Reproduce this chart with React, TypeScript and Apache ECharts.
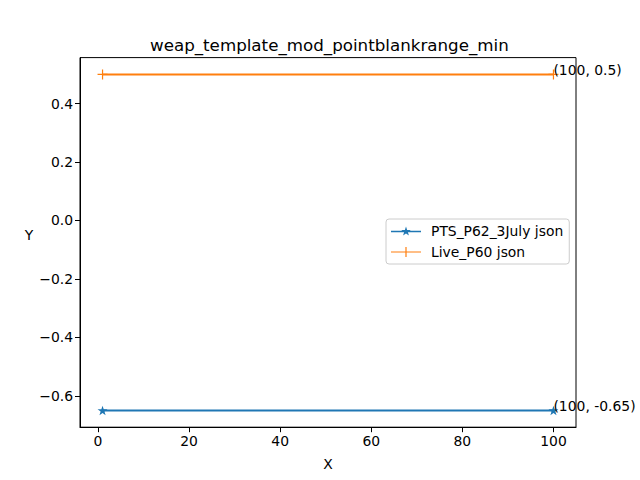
import React, { useEffect, useRef } from 'react'
import * as echarts from 'echarts'

// data
const xValues = [1, 100]
const ptsValues = [-0.65, -0.65]
const liveValues = [0.5, 0.5]
const xTicks = [0, 20, 40, 60, 80, 100]
const yTicks = [-0.6, -0.4, -0.2, 0.0, 0.2, 0.4]
const seriesNames = ['PTS_P62_3July json', 'Live_P60 json']

const FONT = 'DejaVu Sans'
const BLUE = '#1f77b4'
const ORANGE = '#ff7f0e'

// marker shapes (matplotlib '*' and '+')
const STAR =
  'path://M10,0 L12.245,6.91 L19.51,6.91 L13.633,11.18 L15.88,18.09 L10,13.82 L4.12,18.09 L6.367,11.18 L0.49,6.91 L7.755,6.91 Z'
const PLUS =
  'path://M4.4,0 H5.6 V4.4 H10 V5.6 H5.6 V10 H4.4 V5.6 H0 V4.4 H4.4 Z'
// legend icons: line + marker
const STAR_ICON =
  'path://M0,4.25 H30 V5.75 H0 Z M15,0 L16.12,3.455 L19.755,3.455 L16.82,5.59 L17.94,9.045 L15,6.91 L12.06,9.045 L13.18,5.59 L10.245,3.455 L13.88,3.455 Z'
const PLUS_ICON = 'path://M0,4.4 H30 V5.6 H0 Z M14.4,0 H15.6 V10 H14.4 Z'

const fmt = (v: number) => v.toFixed(1).replace('-', '\u2212')

function App() {
  const ref = useRef<HTMLDivElement>(null)

  useEffect(() => {
    const chart = echarts.init(ref.current as HTMLDivElement, undefined, { renderer: 'svg' })

    const mkData = (ys: number[]) =>
      xValues.map((x, i) => {
        const y = ys[i]
        if (i === xValues.length - 1) {
          return {
            value: [x, y],
            label: {
              show: true,
              position: ['50%', '50%'],
              align: 'left',
              verticalAlign: 'bottom',
              offset: [0, 3],
              formatter: `(${x}, ${y})`,
              color: '#000',
              fontFamily: FONT,
              fontSize: 13.9,
            },
          }
        }
        return { value: [x, y] }
      })

    const option: any = {
      animation: false,
      backgroundColor: '#fff',
      textStyle: { fontFamily: FONT },
      title: {
        text: 'weap_template_mod_pointblankrange_min',
        left: 145,
        top: 31,
        textStyle: { fontFamily: FONT, fontSize: 16.7, fontWeight: 'normal', color: '#000' },
      },
      grid: {
        left: 80,
        right: 64,
        top: 57.6,
        bottom: 52.8,
        show: true,
        borderColor: '#000',
        borderWidth: 1,
      },
      legend: {
        orient: 'vertical',
        left: 386,
        top: 219,
        data: [
          { name: seriesNames[0], icon: STAR_ICON },
          { name: seriesNames[1], icon: PLUS_ICON },
        ],
        itemWidth: 30,
        itemHeight: 10,
        itemGap: 7,
        padding: [5, 6, 5, 5],
        borderColor: '#ccc',
        borderWidth: 1,
        borderRadius: 3,
        backgroundColor: 'rgba(255,255,255,0.8)',
        textStyle: { fontFamily: FONT, fontSize: 13.9, color: '#000', padding: [0, 0, 0, 5] },
      },
      xAxis: {
        type: 'value',
        min: -3.95,
        max: 104.95,
        name: 'X',
        nameLocation: 'middle',
        nameGap: 30,
        nameTextStyle: { fontFamily: FONT, fontSize: 13.9, color: '#000' },
        splitLine: { show: false },
        axisLine: { show: true, onZero: false, lineStyle: { color: '#000', width: 1 } },
        axisTick: { show: true, inside: false, length: 5, customValues: xTicks, lineStyle: { color: '#000' } },
        axisLabel: {
          customValues: xTicks,
          formatter: (v: number) => String(v),
          color: '#000',
          fontFamily: FONT,
          fontSize: 13.9,
          margin: 7,
        },
      },
      yAxis: {
        type: 'value',
        min: -0.7075,
        max: 0.5575,
        name: 'Y',
        nameLocation: 'middle',
        nameRotate: 0,
        nameGap: 45,
        nameTextStyle: { fontFamily: FONT, fontSize: 13.9, color: '#000', verticalAlign: 'bottom' },
        splitLine: { show: false },
        axisLine: { show: true, onZero: false, lineStyle: { color: '#000', width: 1 } },
        axisTick: { show: true, inside: false, length: 5, customValues: yTicks, lineStyle: { color: '#000' } },
        axisLabel: {
          customValues: yTicks,
          formatter: (v: number) => fmt(v),
          color: '#000',
          fontFamily: FONT,
          fontSize: 13.9,
          margin: 7,
        },
      },
      series: [
        {
          name: seriesNames[0],
          type: 'line',
          data: mkData(ptsValues),
          symbol: STAR,
          symbolSize: 10,
          symbolKeepAspect: true,
          showAllSymbol: true,
          lineStyle: { color: BLUE, width: 2 },
          itemStyle: { color: BLUE },
          color: BLUE,
        },
        {
          name: seriesNames[1],
          type: 'line',
          data: mkData(liveValues),
          symbol: PLUS,
          symbolSize: 10,
          showAllSymbol: true,
          lineStyle: { color: ORANGE, width: 2 },
          itemStyle: { color: ORANGE },
          color: ORANGE,
        },
      ],
    }
    chart.setOption(option)
    return () => chart.dispose()
  }, [])

  return <div ref={ref} style={{ position: 'fixed', left: 0, top: 0, width: 640, height: 480 }} />
}

export default App
